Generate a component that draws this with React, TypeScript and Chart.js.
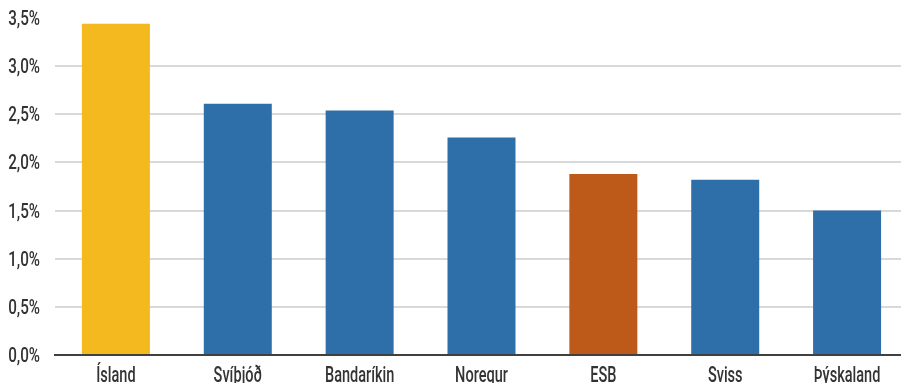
import React, { useEffect, useRef } from "react";
import { Chart, registerables } from "chart.js";

Chart.register(...registerables);

const categories = ["Ísland", "Svíþjóð", "Bandaríkin", "Noregur", "ESB", "Sviss", "Þýskaland"];
const values = [3.44, 2.61, 2.54, 2.26, 1.88, 1.82, 1.5];
const barColors = ["#F4B91E", "#2E6FAA", "#2E6FAA", "#2E6FAA", "#BD5A19", "#2E6FAA", "#2E6FAA"];
const yTicks = [0, 0.5, 1, 1.5, 2, 2.5, 3, 3.5];

const FONT = "Roboto, 'DejaVu Sans', sans-serif";
const TEXT_COLOR = "#333333";

const fmt = (v: number) => v.toFixed(1).replace(".", ",") + "%";

const condensedLabels = {
  id: "condensedLabels",
  afterDraw(chart: any) {
    const ctx = chart.ctx;
    const xs = chart.scales.x;
    const ys = chart.scales.y;
    ctx.save();
    ctx.fillStyle = TEXT_COLOR;
    // y labels
    ctx.font = `500 20px ${FONT}`;
    ctx.textAlign = "right";
    ctx.textBaseline = "middle";
    yTicks.forEach((v) => {
      const y = ys.getPixelForValue(v) + 2;
      ctx.save();
      ctx.translate(40, y);
      ctx.scale(0.76, 1);
      ctx.fillText(fmt(v), 0, 0);
      ctx.restore();
    });
    // x labels
    ctx.font = `500 22px ${FONT}`;
    ctx.textAlign = "center";
    ctx.textBaseline = "alphabetic";
    categories.forEach((c, i) => {
      const x = xs.getPixelForTick(i);
      ctx.save();
      ctx.translate(x, 382);
      ctx.scale(0.66, 1);
      ctx.fillText(c, 0, 0);
      ctx.restore();
    });
    ctx.restore();
  },
};

export default function App() {
  const ref = useRef<HTMLCanvasElement>(null);

  useEffect(() => {
    if (!ref.current) return;
    const chart = new Chart(ref.current, {
      type: "bar",
      data: {
        labels: categories,
        datasets: [
          {
            data: values,
            backgroundColor: barColors,
            borderWidth: 0,
            categoryPercentage: 1,
            barPercentage: 0.558,
          },
        ],
      },
      options: {
        responsive: false,
        animation: false,
        maintainAspectRatio: false,
        layout: { padding: { top: 18, left: 0, right: 0, bottom: 0 } },
        plugins: { legend: { display: false }, tooltip: { enabled: false } },
        scales: {
          x: {
            grid: { display: false, drawTicks: false },
            border: { display: true, color: "#404040", width: 2 },
            ticks: { display: false },
            afterFit: (s: any) => {
              s.height = 28;
            },
          },
          y: {
            min: 0,
            max: 3.5,
            afterBuildTicks: (s: any) => {
              s.ticks = yTicks.map((v) => ({ value: v }));
            },
            grid: {
              color: (ctx: any) =>
                ctx.tick && (ctx.tick.value === 0 || ctx.tick.value === 3.5) ? "rgba(0,0,0,0)" : "#D9D9D9",
              lineWidth: 2,
              drawTicks: false,
            },
            border: { display: false },
            ticks: { display: false },
            afterFit: (s: any) => {
              s.width = 55;
            },
          },
        },
      },
      plugins: [condensedLabels],
    });
    return () => chart.destroy();
  }, []);

  return (
    <div style={{ position: "fixed", left: 0, top: 0, width: 901, height: 383, overflow: "hidden", background: "#fff" }}>
      <canvas ref={ref} width={908} height={383} style={{ display: "block", width: 908, height: 383 }} />
    </div>
  );
}
